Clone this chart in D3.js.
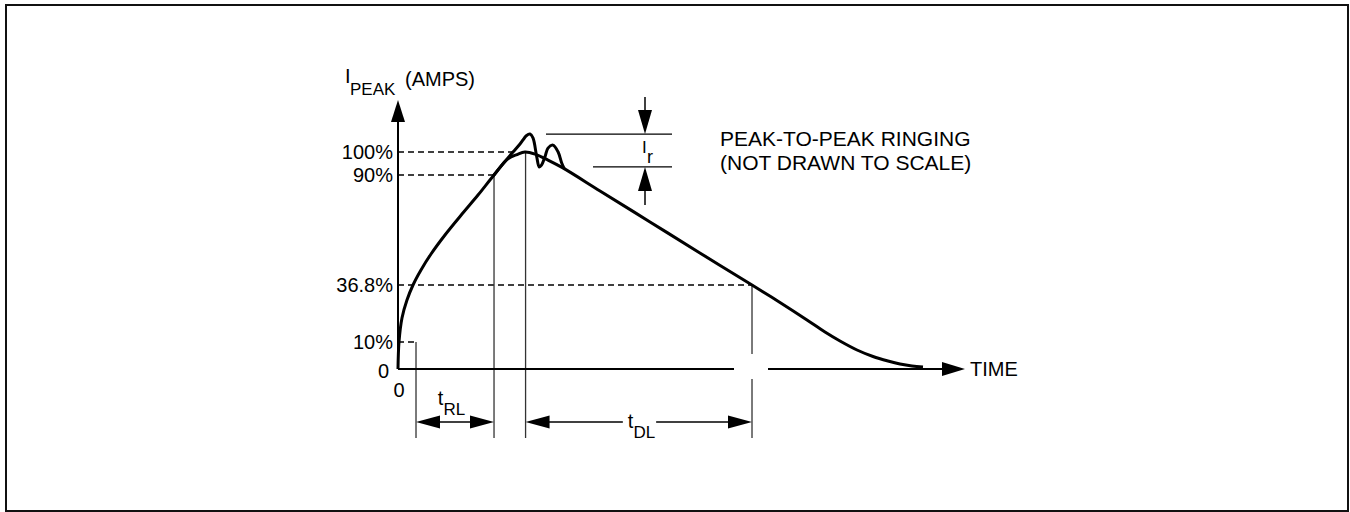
<!DOCTYPE html>
<html>
<head>
<meta charset="utf-8">
<script src="https://cdn.jsdelivr.net/npm/d3@7"></script>
<style>
  body { margin: 0; background: #fff; }
  svg { display: block; }
  text { font-family: "Liberation Sans", Arial, sans-serif; fill: #000; }
</style>
</head>
<body>
<svg id="chart" width="1350" height="512"></svg>
<script>
// Current pulse: time (arbitrary units) and current (% of peak)
const pulseTime = [0, 0.19, 0.76, 1.71, 2.86, 4.38, 6.29, 8.95, 12.19, 15.24, 18.29, 20.95, 22.67, 24.19, 26.1, 28.57, 31.24,
                   38.48, 48.0, 57.5, 67.43, 72.76, 77.9, 81.33, 84.19, 87.43, 90.48, 93.33, 95.62, 97.9, 100];
const pulseCurrent = [0, 10, 21.3, 29.7, 36.8, 44.05, 51.8, 61.0, 71.1, 80.3, 90, 97.0, 98.9, 100, 99.1, 96.5, 93.3,
                      82.3, 67.3, 52.3, 36.8, 28.57, 20.35, 14.7, 10.47, 7.04, 4.63, 2.96, 1.85, 1.11, 0.74];

// Ringing superimposed on the peak
const ringTime = [18.29, 20.19, 21.9, 23.24, 24.5, 25.14, 25.71, 26.42, 26.91, 27.33, 28.0, 28.57, 29.52, 30.48, 31.18, 31.62];
const ringCurrent = [90, 95.4, 100, 103.5, 107.2, 107.8, 106.1, 98.0, 93.5, 94.3, 98.0, 101.7, 103.0, 100.1, 95.2, 93.0];

// Reference levels on the current axis
const levelValues = [0, 10, 36.8, 90, 100];
const levelLabels = ["0", "10%", "36.8%", "90%", "100%"];

// Dashed level guides and the time where each one stops
const guideLevels = [10, 36.8, 90, 100];
const guideEnds = [3.43, 67.43, 18.29, 21.9];

// Timing marks: rise (10% -> 90%) and decay (100% -> 36.8%)
const riseStart = 3.43, riseEnd = 18.29;
const decayStart = 24.3, decayEnd = 67.43;
const timeAxisEnd = 108;

const svg = d3.select("#chart");

const x = d3.scaleLinear().domain([0, 100]).range([398, 923]);
// piecewise scale: the levels are spaced for legibility, not to scale
const y = d3.scaleLinear().domain(levelValues).range([369, 342, 285, 175, 152]);

// frame
svg.append("rect")
  .attr("x", 6).attr("y", 5).attr("width", 1342).attr("height", 506)
  .attr("fill", "none").attr("stroke", "#111").attr("stroke-width", 2);

function arrow(tipX, tipY, dir, len = 23, half = 7) {
  let pts;
  if (dir === "right") pts = [[tipX, tipY], [tipX - len, tipY - half], [tipX - len, tipY + half]];
  if (dir === "left") pts = [[tipX, tipY], [tipX + len, tipY - half], [tipX + len, tipY + half]];
  if (dir === "up") pts = [[tipX, tipY], [tipX - half, tipY + len], [tipX + half, tipY + len]];
  if (dir === "down") pts = [[tipX, tipY], [tipX - half, tipY - len], [tipX + half, tipY - len]];
  svg.append("path").attr("d", "M" + pts.join("L") + "Z").attr("fill", "#000");
}

function seg(x1, y1, x2, y2, stroke = "#000", width = 1.3, dash = null) {
  const l = svg.append("line")
    .attr("x1", x1).attr("y1", y1).attr("x2", x2).attr("y2", y2)
    .attr("stroke", stroke).attr("stroke-width", width);
  if (dash) l.attr("stroke-dasharray", dash);
  return l;
}

// dashed level guides
guideLevels.forEach((lv, i) => {
  seg(x(0), y(lv), x(guideEnds[i]), y(lv), "#000", 1.3, "6,4");
});

// vertical timing lines
const vBottom = 438;
const axisY = y(0);
const verticals = [
  { t: riseStart, level: 10 },
  { t: riseEnd, level: 90 },
  { t: decayStart, level: 100 },
  { t: decayEnd, level: 36.8, broken: true }
];
verticals.forEach(v => {
  const vx = x(v.t);
  if (v.broken) {
    seg(vx, y(v.level), vx, axisY - 15, "#333", 1.3);
    seg(vx, axisY + 10, vx, vBottom, "#333", 1.3);
  } else {
    seg(vx, y(v.level), vx, vBottom, "#333", 1.3);
  }
});

// time axis, broken near the decay mark
const breakX = x(decayEnd);
seg(x(0), axisY, breakX - 18, axisY, "#000", 2);
seg(breakX + 16, axisY, x(timeAxisEnd) - 22, axisY, "#000", 2);
arrow(x(timeAxisEnd), axisY, "right", 23, 7);

// current axis
seg(x(0), axisY, x(0), 120, "#000", 2);
arrow(x(0), 100, "up", 22, 7);

// curves
const line = d3.line()
  .x(d => x(d[0]))
  .y(d => y(d[1]))
  .curve(d3.curveCatmullRom.alpha(0.5));

svg.append("path")
  .datum(ringTime.map((t, i) => [t, ringCurrent[i]]))
  .attr("d", line)
  .attr("fill", "none").attr("stroke", "#000").attr("stroke-width", 3)
  .attr("stroke-linejoin", "round").attr("stroke-linecap", "round");

svg.append("path")
  .datum(pulseTime.map((t, i) => [t, pulseCurrent[i]]))
  .attr("d", line)
  .attr("fill", "none").attr("stroke", "#000").attr("stroke-width", 3)
  .attr("stroke-linejoin", "round");

// level labels
levelValues.forEach((v, i) => {
  svg.append("text")
    .attr("x", x(0) - (v === 0 ? 9 : 5))
    .attr("y", y(v) + (v === 0 ? 2 : 0))
    .attr("text-anchor", "end")
    .attr("dominant-baseline", "central")
    .attr("font-size", 20)
    .text(levelLabels[i]);
});

// time origin
svg.append("text").attr("x", x(0) + 1).attr("y", 397)
  .attr("text-anchor", "middle").attr("font-size", 20).text("0");

// axis titles
svg.append("text").attr("x", 345).attr("y", 83).attr("font-size", 20).text("I");
svg.append("text").attr("x", 350).attr("y", 95).attr("font-size", 17).text("PEAK");
svg.append("text").attr("x", 405).attr("y", 86).attr("font-size", 20).text("(AMPS)");
svg.append("text").attr("x", 970).attr("y", axisY).attr("dominant-baseline", "central")
  .attr("font-size", 20).text("TIME");

// subscripted "t" label centred on cx
function tLabel(cx, base, sub) {
  const g = svg.append("g");
  const t = g.append("text").attr("y", base).attr("font-size", 20).text("t");
  const s = g.append("text").attr("y", base + 10).attr("font-size", 17).text(sub);
  const wt = t.node().getComputedTextLength();
  const ws = s.node().getComputedTextLength();
  const left = cx - (wt + ws) / 2;
  t.attr("x", left);
  s.attr("x", left + wt);
  return [left, left + wt + ws];
}

// rise-time dimension
const dimY = 422;
arrow(x(riseStart), dimY, "left", 24, 6.5);
arrow(x(riseEnd), dimY, "right", 24, 6.5);
seg(x(riseStart) + 20, dimY, x(riseEnd) - 20, dimY, "#000", 1.5);
tLabel((x(riseStart) + x(riseEnd)) / 2 - 3.5, 405, "RL");

// decay-time dimension with the label in the gap
arrow(x(decayStart), dimY, "left", 24, 6.5);
arrow(x(decayEnd), dimY, "right", 24, 6.5);
const [gl, gr] = tLabel((x(decayStart) + x(decayEnd)) / 2 + 2.7, 428, "DL");
seg(x(decayStart) + 20, dimY, gl - 5, dimY, "#000", 1.5);
seg(gr + 1, dimY, x(decayEnd) - 20, dimY, "#000", 1.5);

// peak-to-peak ringing dimension
const ringTop = d3.max(ringCurrent);
const ringLow = d3.min(ringCurrent.filter((c, i) => ringTime[i] > 26 && ringTime[i] < 28));
const irX = 645;
seg(546, y(ringTop), 672, y(ringTop), "#000", 1.3);
seg(593, y(ringLow), 672, y(ringLow), "#000", 1.3);
seg(irX, 97, irX, y(ringTop) - 20, "#000", 1.5);
arrow(irX, y(ringTop), "down", 24, 7);
seg(irX, y(ringLow) + 20, irX, 205, "#000", 1.5);
arrow(irX, y(ringLow), "up", 24, 7);
svg.append("text").attr("x", 642).attr("y", 153).attr("font-size", 17).text("I");
svg.append("text").attr("x", 647).attr("y", 163).attr("font-size", 18).text("r");

svg.append("text").attr("x", 720).attr("y", 146).attr("font-size", 21).text("PEAK-TO-PEAK RINGING");
svg.append("text").attr("x", 720).attr("y", 170).attr("font-size", 21).text("(NOT DRAWN TO SCALE)");
</script>
</body>
</html>
